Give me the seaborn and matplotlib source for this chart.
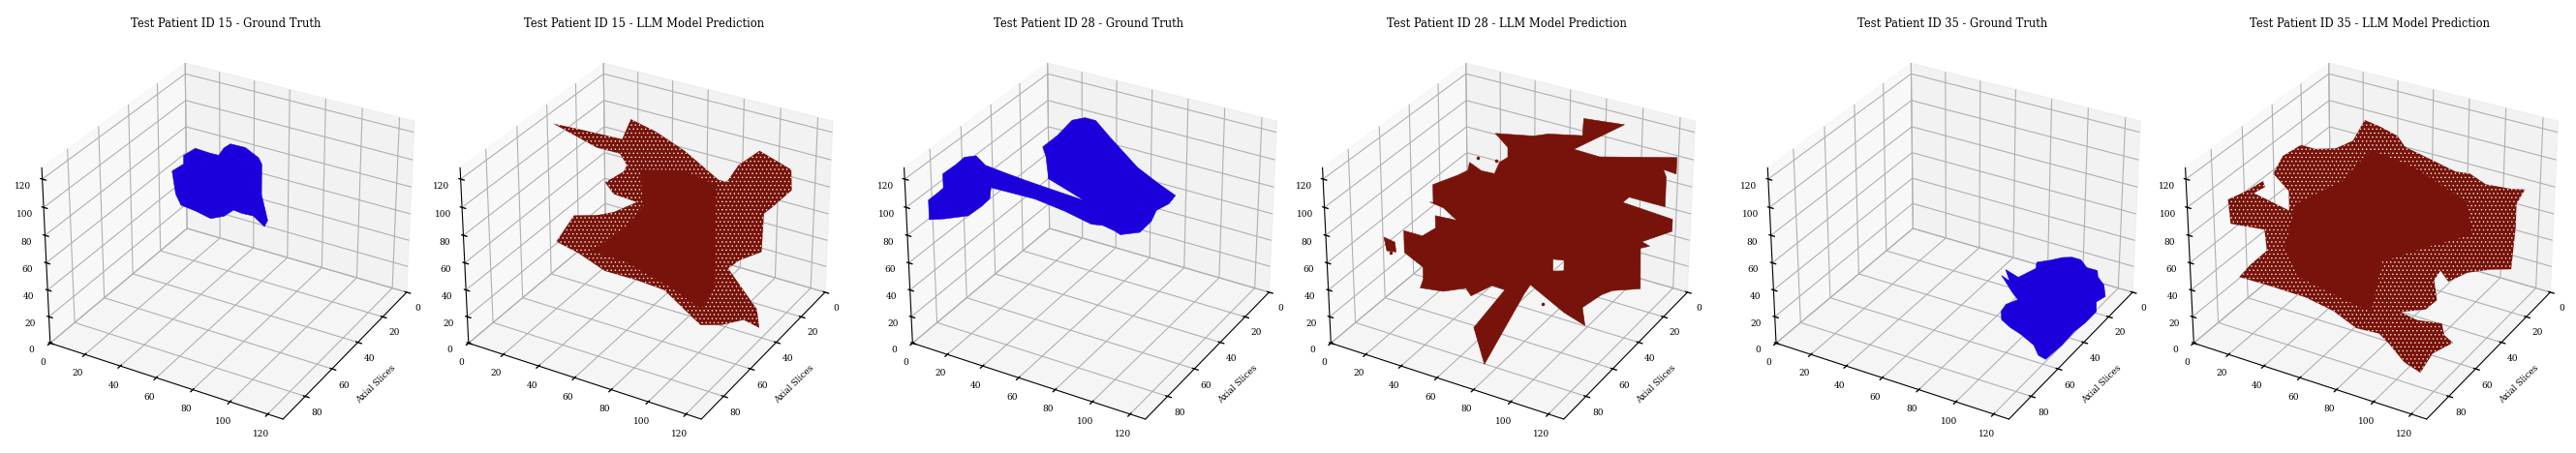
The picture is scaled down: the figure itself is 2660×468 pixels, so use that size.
import matplotlib
matplotlib.use("Agg")
import matplotlib.pyplot as plt
import seaborn as sns
from mpl_toolkits.mplot3d.art3d import Poly3DCollection

# tick values and titles
x_ticks = [0, 20, 40, 60, 80, 100, 120]
y_ticks = [0, 20, 40, 60, 80]
z_ticks = [0, 20, 40, 60, 80, 100, 120]
patient_ids = [15, 15, 28, 28, 35, 35]
kinds = ["Ground Truth", "LLM Model Prediction"] * 3

# outlines of each tumour volume
gt15_x = [47, 51, 56, 59, 61, 63, 68, 73, 74, 74, 75, 76, 75, 71, 67, 64, 61, 56, 51, 46, 44, 43, 47]
gt15_y = [60, 57, 53, 51, 50, 48, 44, 41, 40, 40, 39, 38, 39, 42, 45, 47, 50, 53, 57, 61, 62, 63, 60]
gt15_z = [124, 128, 123, 121, 126, 128, 124, 116, 111, 89, 79, 69, 65, 74, 77, 80, 77, 76, 83, 89, 97, 114, 118]

pred15_x = [11, 26, 48, 41, 58, 76, 88, 91, 95, 102, 114, 114, 107, 104, 104, 96, 92, 107, 116, 106, 99, 90, 76, 69, 59, 48, 38, 31, 37, 45, 51, 59, 51, 48, 55, 56, 53, 42]
pred15_y = [49, 48, 47, 32, 36, 39, 30, 28, 25, 19, 11, 10, 15, 17, 18, 24, 27, 25, 36, 34, 41, 45, 38, 44, 51, 60, 66, 72, 67, 61, 57, 51, 57, 59, 55, 54, 55, 57]
pred15_z = [125, 125, 125, 125, 125, 120, 96, 94, 105, 113, 97, 81, 70, 66, 38, 34, 29, 2, 2, 2, 2, 2, 1, 19, 29, 40, 55, 66, 83, 81, 82, 87, 95, 104, 111, 115, 123, 125]
core15_x = [60, 75, 87, 87, 87, 82, 71, 55, 43, 55, 61]
core15_y = [50, 39, 31, 31, 31, 34, 43, 55, 63, 55, 49]
core15_z = [110, 106, 93, 49, 17, 1, 22, 46, 56, 70, 83]

gt28_x = [18, 22, 26, 33, 40, 48, 60, 48, 48, 47, 42, 42, 40, 44, 50, 65, 79, 86, 92, 90, 86, 84, 80, 73, 71, 67, 63, 53, 43, 28, 28, 25, 20, 12, 7, 7, 10, 12, 12, 17]
gt28_y = [79, 76, 75, 71, 66, 60, 50, 60, 60, 60, 56, 46, 33, 29, 29, 38, 37, 31, 26, 28, 32, 33, 36, 41, 43, 46, 49, 55, 63, 74, 75, 77, 80, 86, 90, 90, 88, 86, 86, 83]
gt28_z = [128, 128, 122, 116, 109, 101, 88, 108, 111, 123, 125, 125, 125, 125, 125, 125, 108, 94, 83, 78, 75, 67, 60, 60, 64, 69, 71, 82, 94, 106, 99, 94, 88, 88, 89, 103, 107, 110, 120, 126]

pred28_x = [49, 66, 71, 86, 78, 98, 85, 94, 122, 122, 117, 118, 118, 105, 103, 121, 121, 110, 113, 110, 110, 100, 96, 82, 82, 78, 78, 82, 96, 89, 98, 83.5, 70, 68, 73, 52, 61, 56, 49, 47, 39, 31, 32, 32, 26, 26, 32, 37, 37, 44, 40, 35, 36, 36, 45, 48, 49, 53, 57, 59, 62, 62]
pred28_y = [41, 36, 32, 27, 15, 12, 32, 25, 5, 5, 8, 7, 7, 17, 19, 5, 5, 13, 11, 14, 13, 21, 24, 34, 34, 37, 37, 34, 24, 29, 39.5, 35.5, 43, 45, 80, 61, 50, 53, 59, 60, 66, 72, 71, 71, 76, 76, 71, 68, 68, 62, 66, 69, 68, 68, 62, 59, 59, 56, 52, 51, 49, 49]
pred28_z = [125, 125, 125, 125, 125, 125, 119, 111, 104, 92, 96, 90, 68, 79, 76, 58, 49, 44, 40, 40, 8, 10, 8, 30, 38, 40, 31, 30, 8, 0, 0, 0, 23, 17, 0, 0, 22, 26, 21, 27, 27, 32, 38, 47, 60, 76, 70, 75, 84, 78, 89, 94, 93, 106, 111, 113, 119, 112, 108, 116, 119, 126]
islet28_x = [19, 22.5, 23, 20]
islet28_y = [81, 78, 78, 80.5]
islet28_z = [73, 68, 61, 63]
stray28_x = [52, 58, 21, 75]
stray28_y = [57, 52, 79, 40]
stray28_z = [121, 117, 60, 7]

gt35_x = [81, 86, 90, 94, 99, 105, 111, 114, 120, 125.5, 124, 128, 128, 127, 127.5, 126.6, 122, 116, 106, 99, 92, 88, 87, 90, 85, 72, 78, 71, 80, 83.5]
gt35_y = [11, 7, 3, 1, 1, 5, 5, 9, 13, 20, 25, 31, 40, 47, 57, 68, 67, 62, 58, 56, 53, 48, 43, 38, 35, 26, 28, 21.5, 24, 15]
gt35_z = [15] * 30

pred35_x = [45, 56, 67, 74, 82, 92, 97, 103, 112, 117, 114, 114, 113, 105, 97, 90, 87, 85, 86, 82, 73, 83, 95, 101, 108, 104, 107, 96, 81.5, 73, 61, 49, 39, 27, 16, 20, 26, 25, 14, 13, 20, 34, 34, 29, 32, 32, 40, 48, 51]
pred35_y = [31, 33, 36, 40, 34, 27, 23, 19, 12, 8, 10, 10, 11, 17, 23, 28, 30, 32, 31, 34, 41, 42, 39.5, 46, 49, 59, 72, 69, 61, 57, 58, 59, 66, 75, 83, 80, 76, 76, 85, 85, 80, 70, 70, 74, 71, 59, 59, 55, 47]
pred35_z = [125, 125, 125, 123, 113, 101, 98, 89, 83, 81, 71, 53, 22, 24, 24, 19, 28, 22, 6, 0, 1, 0, 0, 0, 0, 0, 0, 0, 0, 0, 0, 9, 22, 34, 44, 52, 61, 76, 84, 101, 106, 88, 102, 116, 127, 125, 125, 125, 125]
core35_x = [36, 52, 62, 77, 96, 98, 81, 66, 62, 52, 36, 32]
core35_y = [68, 56, 49, 38, 24, 22, 35, 46, 49, 56, 68, 71]
core35_z = [92, 104, 124, 108, 78, 53, 48, 42, 5, 17, 39, 62]
islet35_x = [20, 25, 26, 21.5]
islet35_y = [80, 76, 76, 79]
islet35_z = [106, 111, 107, 103]

BLUE = "#1b00dc"
RED = "#77130a"

W, H = 2660, 468
AX_W = 428
centers = [233.5, 665.5, 1124, 1556, 2015.7, 2447]

sns.set_theme(context="paper", style="white", rc={
    "text.color": "black", "axes.labelcolor": "black",
    "xtick.color": "black", "ytick.color": "black",
    "axes.edgecolor": "black", "grid.color": "#b0b0b0", "grid.linewidth": 0.8,
    "axes.linewidth": 0.8, "hatch.linewidth": 0.5,
})
plt.rcParams["font.family"] = "DejaVu Serif"


def add_shape(ax, xs, ys, zs, color, speckle=False, order=2):
    verts = [list(zip(xs, ys, zs))]
    if speckle:
        poly = Poly3DCollection(verts, facecolors=color, edgecolors="#f5e6e4", linewidths=0, hatch="....", zorder=order)
    else:
        poly = Poly3DCollection(verts, facecolors=color, edgecolors=color, linewidths=0.4, zorder=order)
    ax.add_collection3d(poly, autolim=False)


fig = plt.figure(figsize=(W / 100, H / 100), dpi=100)
axes = []
for i, c in enumerate(centers):
    ax = fig.add_axes([(c - AX_W / 2) / W, (H - 32 - AX_W) / H, AX_W / W, AX_W / H], projection="3d")
    ax.computed_zorder = False
    ax.set_xlim(0, 128)
    ax.set_ylim(96, 0)
    ax.set_zlim(0, 128)
    ax.set_xticks(x_ticks)
    ax.set_yticks(y_ticks)
    ax.set_zticks(z_ticks)
    ax.zaxis.set_ticks_position("upper")
    ax.zaxis.set_label_position("upper")
    ax.tick_params(labelsize=6.5, pad=0)
    # the y label sits closer to the axis than set_ylabel puts it
    ax.text2D(0.861, 0.147, "Axial Slices", transform=ax.transAxes, fontsize=6.5,
              rotation=44, ha="center", va="center")
    ax.set_title(f"Test Patient ID {patient_ids[i]} - {kinds[i]}", fontsize=8.3, pad=3)
    axes.append(ax)

add_shape(axes[0], gt15_x, gt15_y, gt15_z, BLUE)
add_shape(axes[1], pred15_x, pred15_y, pred15_z, RED, speckle=True)
add_shape(axes[1], core15_x, core15_y, core15_z, RED, order=3)
add_shape(axes[2], gt28_x, gt28_y, gt28_z, BLUE)
add_shape(axes[3], pred28_x, pred28_y, pred28_z, RED)
add_shape(axes[3], islet28_x, islet28_y, islet28_z, RED)
axes[3].scatter(stray28_x, stray28_y, stray28_z, s=3, color=RED, depthshade=False)
add_shape(axes[4], gt35_x, gt35_y, gt35_z, BLUE)
add_shape(axes[5], pred35_x, pred35_y, pred35_z, RED, speckle=True)
add_shape(axes[5], core35_x, core35_y, core35_z, RED, order=3)
add_shape(axes[5], islet35_x, islet35_y, islet35_z, RED, speckle=True)

fig.savefig("out.png", dpi=100)
